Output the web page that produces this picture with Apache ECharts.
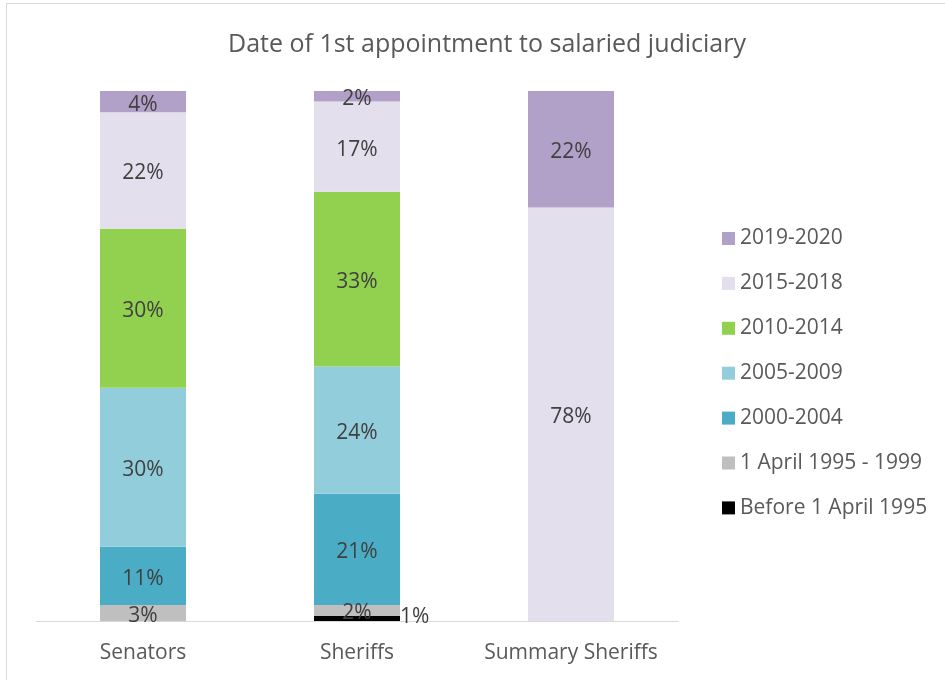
<!DOCTYPE html>
<html>
<head>
<meta charset="utf-8">
<script src="https://cdn.jsdelivr.net/npm/echarts@6/dist/echarts.min.js"></script>
<style>
  html, body { margin: 0; padding: 0; background: #fff; }
  #chart { width: 945px; height: 680px; }
</style>
</head>
<body>
<div id="chart"></div>
<script>
// Judicial office holders
const categories = ['Senators', 'Sheriffs', 'Summary Sheriffs'];

// Share (%) by date of first appointment to the salaried judiciary
const before1995 = [0, 1, 0];
const apr1995to1999 = [3, 2, 0];
const y2000to2004 = [11, 21, 0];
const y2005to2009 = [30, 24, 0];
const y2010to2014 = [30, 33, 0];
const y2015to2018 = [22, 17, 78];
const y2019to2020 = [4, 2, 22];

const seriesNames = ['Before 1 April 1995', '1 April 1995 - 1999', '2000-2004',
  '2005-2009', '2010-2014', '2015-2018', '2019-2020'];
const seriesValues = [before1995, apr1995to1999, y2000to2004, y2005to2009,
  y2010to2014, y2015to2018, y2019to2020];
const seriesColors = ['#000000', '#bfbfbf', '#4bacc6', '#92cddc', '#92d050', '#e4dfec', '#b1a0c7'];

const FONT = 'Open Sans';

const chart = echarts.init(document.getElementById('chart'));

const series = seriesNames.map((name, i) => ({
  name: name,
  type: 'bar',
  stack: 'total',
  barWidth: 86,
  itemStyle: { color: seriesColors[i] },
  label: {
    show: true,
    position: 'inside',
    offset: [0, 3],
    fontFamily: FONT,
    fontSize: 21,
    color: '#404040',
    formatter: p => (p.value > 0 ? p.value + '%' : '')
  },
  data: seriesValues[i].map(v => {
    // the thinnest slice carries its label beside the bar
    if (v > 0 && v < 2) {
      return { value: v, label: { position: 'right', distance: 0, offset: [0, -1] } };
    }
    return v;
  })
}));

chart.setOption({
  animation: false,
  backgroundColor: '#ffffff',
  graphic: [{
    type: 'rect',
    shape: { x: 6.5, y: 3.5, width: 1000, height: 800 },
    style: { fill: 'none', stroke: '#d9d9d9', lineWidth: 1 },
    silent: true,
    z: -1
  }],
  title: {
    text: 'Date of 1st appointment to salaried judiciary',
    left: 482,
    top: 27,
    textAlign: 'center',
    textStyle: { fontFamily: FONT, fontSize: 25, fontWeight: 'normal', color: '#595959' }
  },
  legend: {
    orient: 'vertical',
    left: 717,
    top: 223,
    itemWidth: 13,
    itemHeight: 13,
    itemGap: 23.9,
    icon: 'rect',
    textStyle: { fontFamily: FONT, fontSize: 21, lineHeight: 20, color: '#595959', padding: [0, 0, 0, 0] },
    data: seriesNames.slice().reverse()
  },
  grid: { left: 36, right: 267, top: 91, bottom: 59, containLabel: false },
  xAxis: {
    type: 'category',
    data: categories,
    axisLine: { lineStyle: { color: '#d9d9d9', width: 1 } },
    axisTick: { show: false },
    axisLabel: { interval: 0, fontFamily: FONT, fontSize: 21, color: '#595959', margin: 22 }
  },
  yAxis: {
    type: 'value',
    min: 0,
    max: 100,
    show: false
  },
  series: series
});
</script>
</body>
</html>
